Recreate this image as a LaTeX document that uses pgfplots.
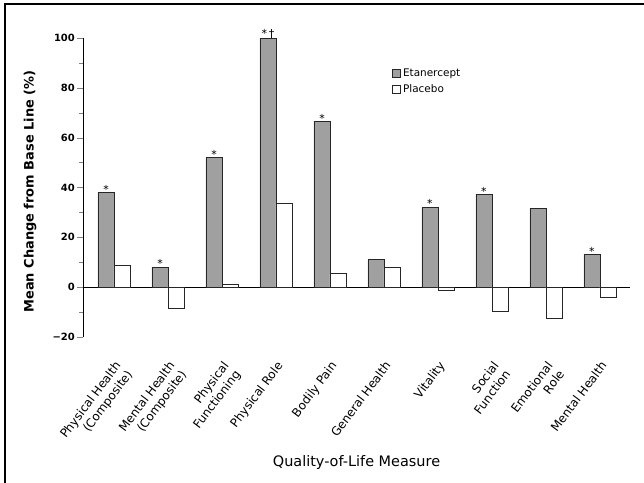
\documentclass[border=0pt]{standalone}
\usepackage{pgfplots}
\pgfplotsset{compat=1.18}
\usepackage{fontspec}
\setmainfont{DejaVu Sans}
\definecolor{barGray}{RGB}{160,160,160}
\begin{document}
\begin{tikzpicture}
\useasboundingbox (0bp,0bp) rectangle (644bp,-483bp);
\fill[white] (0bp,0bp) rectangle (644bp,-483bp);
\draw[line width=1.3bp] (5bp,-483bp) -- (5bp,-4bp) -- (644bp,-4bp);
\begin{axis}[
  at={(83bp,-337bp)}, anchor=south west,
  scale only axis, width=547bp, height=299bp,
  xmin=-0.574, xmax=9.556, ymin=-20, ymax=100,
  axis y line*=left, axis x line*=bottom,
  x axis line style={draw=none},
  xtick={0,...,9}, xtick style={draw=none},
  xticklabels={{Physical Health\\(Composite)},{Mental Health\\(Composite)},{Physical\\Functioning},{Physical Role},{Bodily Pain},{General Health},{Vitality},{Social\\Function},{Emotional\\Role},{Mental Health}},
  xticklabel style={yshift=-17bp, rotate=53, anchor=north east, align=right, inner sep=0pt,
    font=\fontsize{12}{14.5}\selectfont},
  ytick={-20,0,20,40,60,80,100},
  yticklabels={−20,0,20,40,60,80,100},
  minor ytick={-10,10,30,50,70,90},
  tick align=outside, major tick length=6bp, minor tick length=4bp,
  yticklabel style={font=\bfseries\fontsize{10}{12}\selectfont, inner sep=2bp},
  extra y ticks={0}, extra y tick labels={},
  extra y tick style={grid=major, major grid style={black, line width=0.9bp}, tick style={draw=none}},
  every axis y label/.style={at={(rel axis cs:0,0.5)}, anchor=center, xshift=-53bp, yshift=-4bp, rotate=90},
  ylabel={Mean Change from Base Line (\%)},
  ylabel style={font=\bfseries\fontsize{13}{15}\selectfont},
  every axis x label/.style={at={(rel axis cs:0.5,0)}, anchor=center, yshift=-126bp},
  xlabel={Quality-of-Life Measure},
  xlabel style={font=\fontsize{14.5}{16}\selectfont},
  axis line style={line width=0.9bp},
  ybar, bar width=16bp,
  legend style={at={(0.565,0.905)}, anchor=north west, draw=none, fill=none,
    font=\fontsize{10.5}{12}\selectfont, row sep=3bp, inner sep=0pt},
  legend cell align=left,
  legend image code/.code={\draw[#1, line width=0.8bp] (0bp,-4bp) rectangle (8bp,4bp);},
]
\addplot[fill=barGray, draw=black!85, line width=0.9bp, bar shift=-8bp,
  nodes near coords, point meta=explicit symbolic,
  every node near coord/.append style={font=\fontsize{11}{12}\selectfont, anchor=south, inner sep=1bp, yshift=-2bp}]
coordinates {
  (0,38) [*]
  (1,8) [*]
  (2,52) [*]
  (3,100) [*\,†]
  (4,66.5) [*]
  (5,11) [{}]
  (6,32) [*]
  (7,37.2) [*]
  (8,31.6) [{}]
  (9,13.1) [*]
};
\addlegendentry{Etanercept}
\addplot[fill=white, draw=black!85, line width=0.9bp, bar shift=8bp]
coordinates {
  (0,8.8)
  (1,-8.7)
  (2,1.2)
  (3,33.5)
  (4,5.4)
  (5,7.9)
  (6,-1.2)
  (7,-9.8)
  (8,-12.7)
  (9,-4.3)
};
\addlegendentry{Placebo}
\end{axis}
\end{tikzpicture}
\end{document}
